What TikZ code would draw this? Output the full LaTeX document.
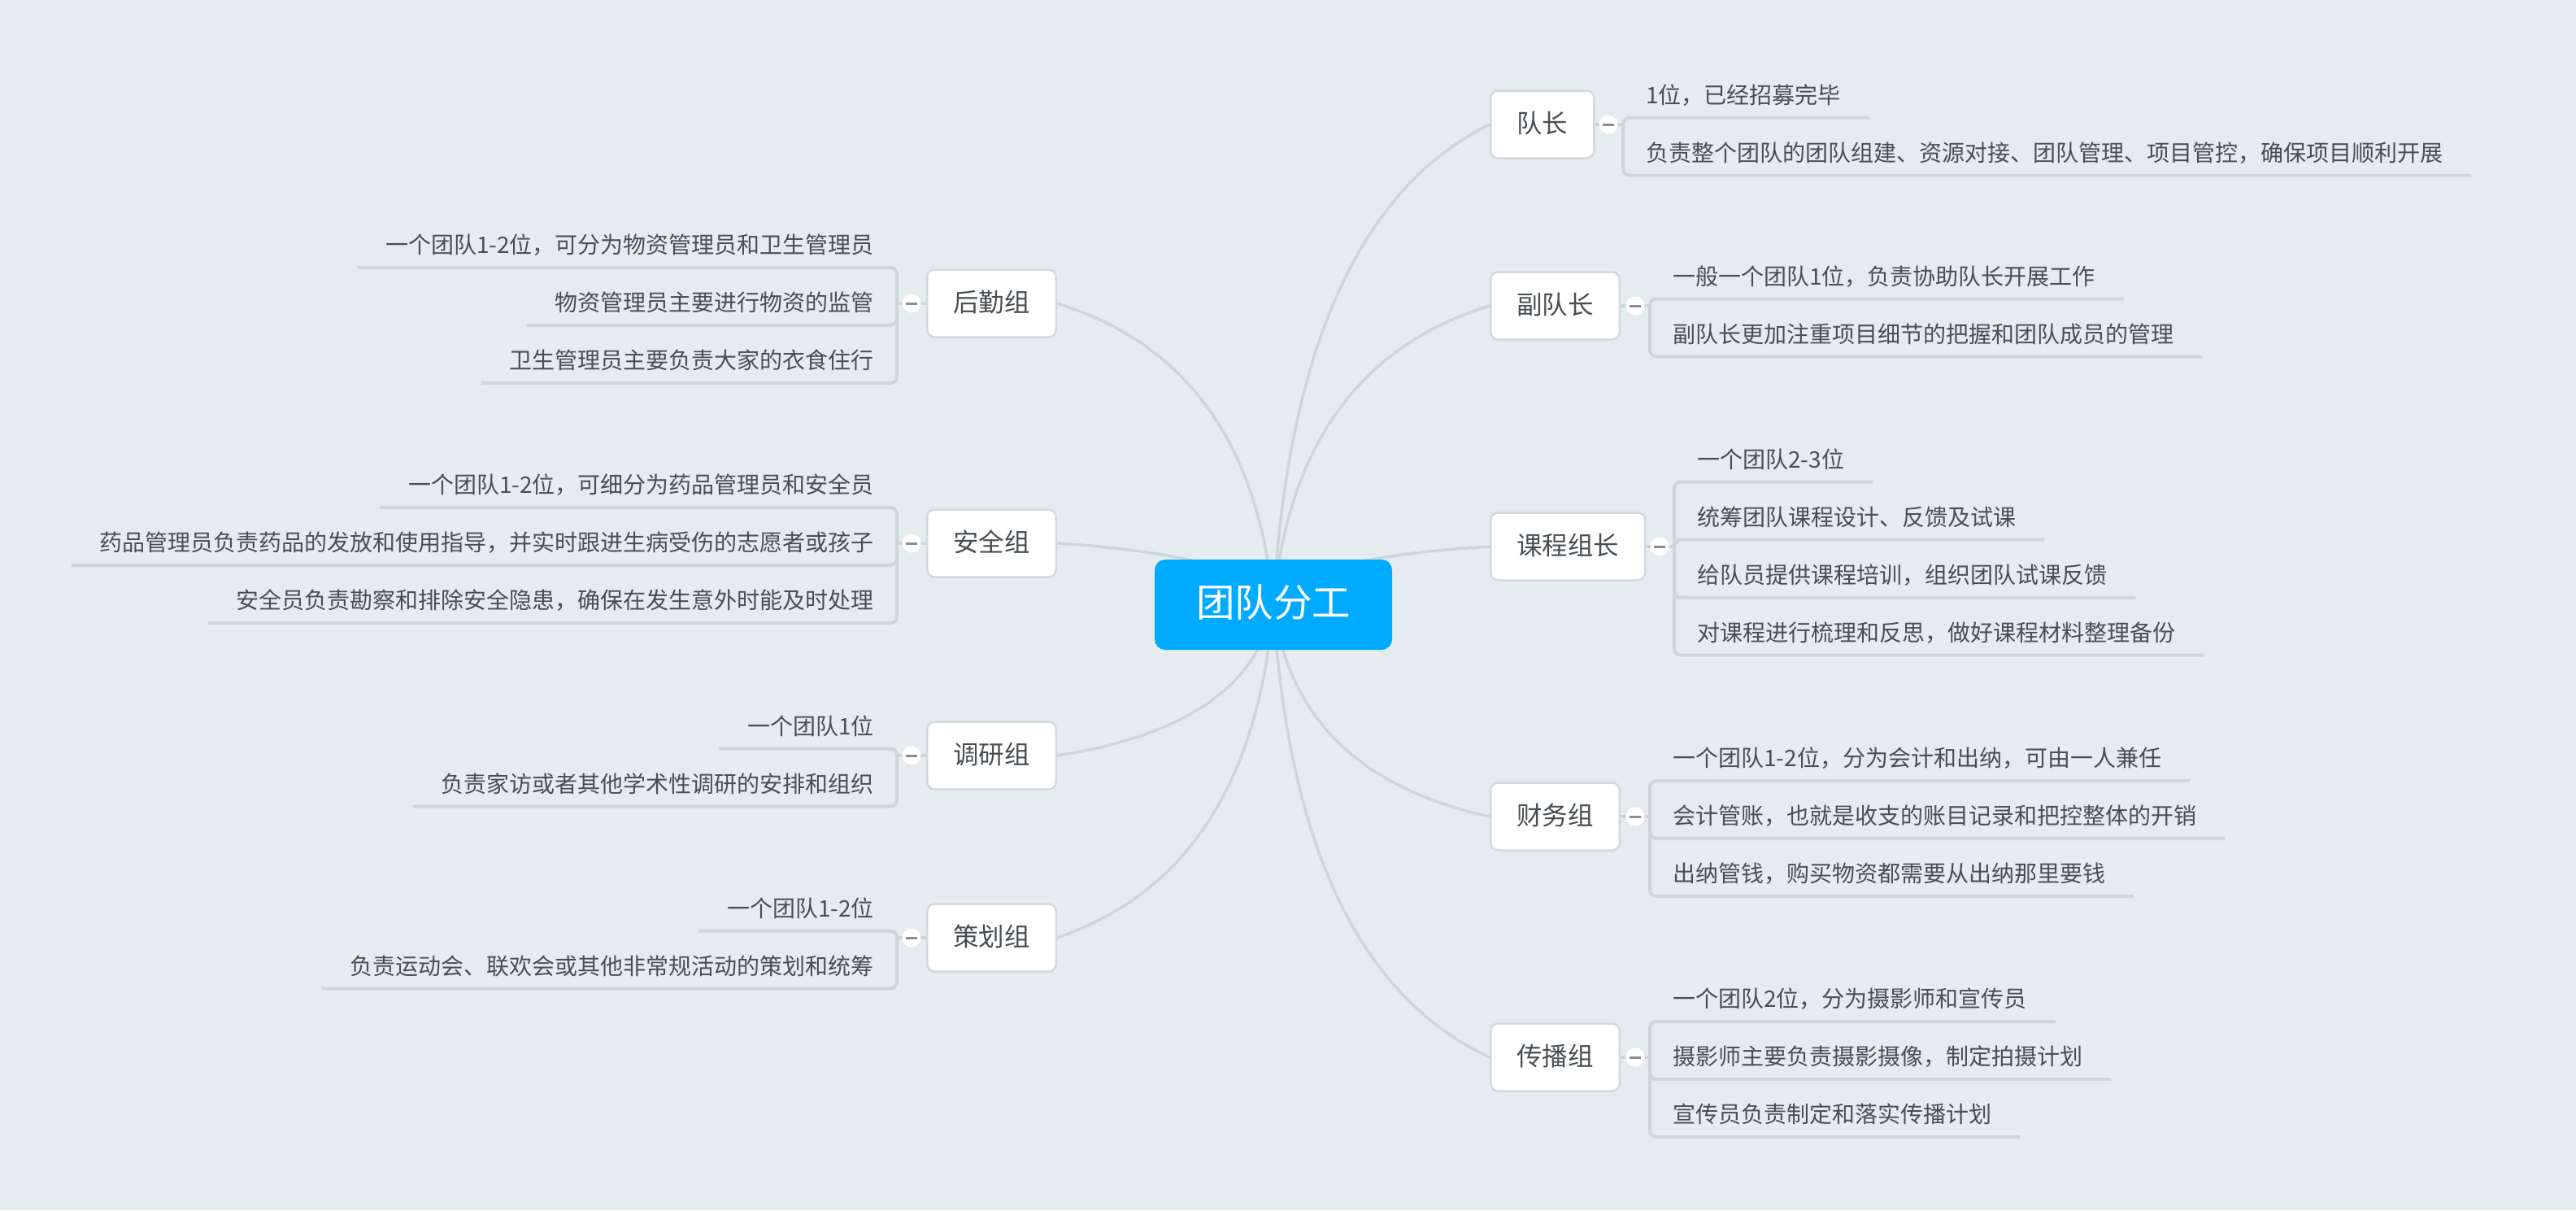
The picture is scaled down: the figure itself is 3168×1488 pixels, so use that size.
\documentclass[tikz,border=0pt]{standalone}
\usepackage{fontspec}
\setmainfont{Noto Sans CJK SC}
\usetikzlibrary{calc}
\pgfdeclarelayer{bgl}
\pgfdeclarelayer{lines}
\pgfsetlayers{bgl,lines,main}
\definecolor{bgc}{RGB}{229,236,240}
\definecolor{linec}{RGB}{206,214,219}
\definecolor{boxb}{RGB}{211,218,223}
\definecolor{txt}{RGB}{72,78,82}
\definecolor{rootc}{RGB}{0,170,255}
\definecolor{minusc}{RGB}{140,140,140}
\newcommand\rootlink[2]{\draw[conn] let \p1=(#1), \p2=(#2) in (\p1) .. controls ({\x1+0.0667*(\x2-\x1)},{\y1+0.5333*(\y2-\y1)}) and ({\x2-0.6*(\x2-\x1)},{\y2-0.1333*(\y2-\y1)}) .. (\p2);}
\tikzset{
  rootbox/.style={fill=rootc, rounded corners=13, minimum width=292, minimum height=111, inner sep=0, text=white, font=\fontsize{47.5}{56}\selectfont, text height=38, text depth=7.6},
  branchbox/.style={draw=boxb, line width=2.5, fill=white, rounded corners=9, minimum height=83, inner xsep=32, inner ysep=0, text=txt, font=\fontsize{31.5}{38}\selectfont, text height=25.2, text depth=5},
  rbranch/.style={branchbox, anchor=west},
  lbranch/.style={branchbox, anchor=east},
  collapse/.style={circle, fill=white, minimum size=23, inner sep=0, path picture={\draw[minusc, line width=3] ([xshift=-7pt]path picture bounding box.center) -- ([xshift=7pt]path picture bounding box.center);}},
  leafR/.style={anchor=south west, inner sep=0, minimum height=52, text=txt, font=\fontsize{28}{34}\selectfont, text height=22.5, text depth=4.5},
  leafL/.style={leafR, anchor=south east},
  conn/.style={draw=linec, line width=3.5},
  stub/.style={draw=linec, line width=3.5},
  leafline/.style={draw=linec, line width=4, rounded corners=8},
}
\begin{document}
\begin{tikzpicture}[x=1pt,y=-1pt]
\useasboundingbox (0,0) rectangle (3168,1488);
\begin{pgfonlayer}{bgl}
\fill[bgc] (0,0) rectangle (3168,1488);
\end{pgfonlayer}

\node[rootbox] (root) at (1566,743.5) {团队分工};

% right branches
\node[rbranch] (b1) at (1832,153) {队长};
\node[collapse] (c1) at (1978,153) {};
\coordinate (k1) at (1996,153);
\node[leafR] (l11) at (2024,144.5) {1位，已经招募完毕};
\node[leafR] (l12) at (2024,215.5) {负责整个团队的团队组建、资源对接、团队管理、项目管控，确保项目顺利开展};

\node[rbranch] (b2) at (1832,376) {副队长};
\node[collapse] (c2) at (2011,376) {};
\coordinate (k2) at (2029,376);
\node[leafR] (l21) at (2057,367.5) {一般一个团队1位，负责协助队长开展工作};
\node[leafR] (l22) at (2057,438.5) {副队长更加注重项目细节的把握和团队成员的管理};

\node[rbranch] (b3) at (1832,672) {课程组长};
\node[collapse] (c3) at (2041,672) {};
\coordinate (k3) at (2059,672);
\node[leafR] (l31) at (2087,592.5) {一个团队2-3位};
\node[leafR] (l32) at (2087,663.5) {统筹团队课程设计、反馈及试课};
\node[leafR] (l33) at (2087,734.5) {给队员提供课程培训，组织团队试课反馈};
\node[leafR] (l34) at (2087,805.5) {对课程进行梳理和反思，做好课程材料整理备份};

\node[rbranch] (b4) at (1832,1004) {财务组};
\node[collapse] (c4) at (2011,1004) {};
\coordinate (k4) at (2029,1004);
\node[leafR] (l41) at (2057,960) {一个团队1-2位，分为会计和出纳，可由一人兼任};
\node[leafR] (l42) at (2057,1031) {会计管账，也就是收支的账目记录和把控整体的开销};
\node[leafR] (l43) at (2057,1102) {出纳管钱，购买物资都需要从出纳那里要钱};

\node[rbranch] (b5) at (1832,1300) {传播组};
\node[collapse] (c5) at (2011,1300) {};
\coordinate (k5) at (2029,1300);
\node[leafR] (l51) at (2057,1256) {一个团队2位，分为摄影师和宣传员};
\node[leafR] (l52) at (2057,1327) {摄影师主要负责摄影摄像，制定拍摄计划};
\node[leafR] (l53) at (2057,1398) {宣传员负责制定和落实传播计划};

% left branches
\node[lbranch] (b6) at (1300,373) {后勤组};
\node[collapse] (c6) at (1121,373) {};
\coordinate (k6) at (1103,373);
\node[leafL] (l61) at (1075,329) {一个团队1-2位，可分为物资管理员和卫生管理员};
\node[leafL] (l62) at (1075,400) {物资管理员主要进行物资的监管};
\node[leafL] (l63) at (1075,471) {卫生管理员主要负责大家的衣食住行};

\node[lbranch] (b7) at (1300,668) {安全组};
\node[collapse] (c7) at (1121,668) {};
\coordinate (k7) at (1103,668);
\node[leafL] (l71) at (1075,624) {一个团队1-2位，可细分为药品管理员和安全员};
\node[leafL] (l72) at (1075,695) {药品管理员负责药品的发放和使用指导，并实时跟进生病受伤的志愿者或孩子};
\node[leafL] (l73) at (1075,766) {安全员负责勘察和排除安全隐患，确保在发生意外时能及时处理};

\node[lbranch] (b8) at (1300,929) {调研组};
\node[collapse] (c8) at (1121,929) {};
\coordinate (k8) at (1103,929);
\node[leafL] (l81) at (1075,920.5) {一个团队1位};
\node[leafL] (l82) at (1075,991.5) {负责家访或者其他学术性调研的安排和组织};

\node[lbranch] (b9) at (1300,1153) {策划组};
\node[collapse] (c9) at (1121,1153) {};
\coordinate (k9) at (1103,1153);
\node[leafL] (l91) at (1075,1144.5) {一个团队1-2位};
\node[leafL] (l92) at (1075,1215.5) {负责运动会、联欢会或其他非常规活动的策划和统筹};

\begin{pgfonlayer}{lines}
\rootlink{root.center}{b1.west}
\rootlink{root.center}{b2.west}
\rootlink{root.center}{b3.west}
\rootlink{root.center}{b4.west}
\rootlink{root.center}{b5.west}
\rootlink{root.center}{b6.east}
\rootlink{root.center}{b7.east}
\rootlink{root.center}{b8.east}
\rootlink{root.center}{b9.east}
\foreach \i in {1,...,5} {
  \draw[stub] (b\i.east) -- (c\i.center);
  \draw[stub] (c\i.center) -- (k\i);
}
\foreach \i in {6,...,9} {
  \draw[stub] (b\i.west) -- (c\i.center);
  \draw[stub] (c\i.center) -- (k\i);
}
\draw[leafline] (k1) |- ($(l11.south east)+(35,0)$);
\draw[leafline] (k1) |- ($(l12.south east)+(35,0)$);
\draw[leafline] (k2) |- ($(l21.south east)+(35,0)$);
\draw[leafline] (k2) |- ($(l22.south east)+(35,0)$);
\draw[leafline] (k3) |- ($(l31.south east)+(35,0)$);
\draw[leafline] (k3) |- ($(l32.south east)+(35,0)$);
\draw[leafline] (k3) |- ($(l33.south east)+(35,0)$);
\draw[leafline] (k3) |- ($(l34.south east)+(35,0)$);
\draw[leafline] (k4) |- ($(l41.south east)+(35,0)$);
\draw[leafline] (k4) |- ($(l42.south east)+(35,0)$);
\draw[leafline] (k4) |- ($(l43.south east)+(35,0)$);
\draw[leafline] (k5) |- ($(l51.south east)+(35,0)$);
\draw[leafline] (k5) |- ($(l52.south east)+(35,0)$);
\draw[leafline] (k5) |- ($(l53.south east)+(35,0)$);
\draw[leafline] (k6) |- ($(l61.south west)+(-35,0)$);
\draw[leafline] (k6) |- ($(l62.south west)+(-35,0)$);
\draw[leafline] (k6) |- ($(l63.south west)+(-35,0)$);
\draw[leafline] (k7) |- ($(l71.south west)+(-35,0)$);
\draw[leafline] (k7) |- ($(l72.south west)+(-35,0)$);
\draw[leafline] (k7) |- ($(l73.south west)+(-35,0)$);
\draw[leafline] (k8) |- ($(l81.south west)+(-35,0)$);
\draw[leafline] (k8) |- ($(l82.south west)+(-35,0)$);
\draw[leafline] (k9) |- ($(l91.south west)+(-35,0)$);
\draw[leafline] (k9) |- ($(l92.south west)+(-35,0)$);
\end{pgfonlayer}
\end{tikzpicture}
\end{document}
